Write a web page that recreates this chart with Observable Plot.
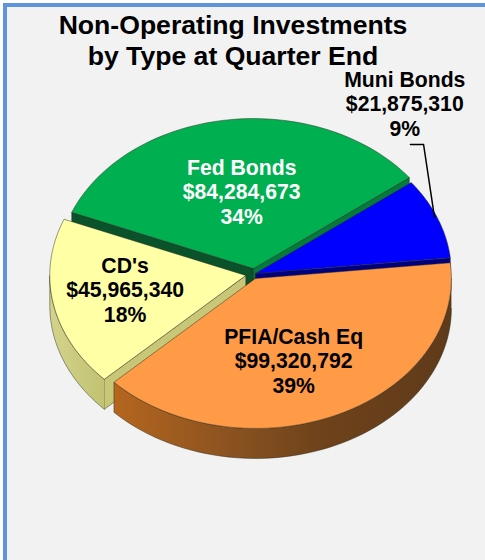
<!DOCTYPE html>
<html>
<head>
<meta charset="utf-8">
<script src="https://cdn.jsdelivr.net/npm/d3@7"></script>
<script src="https://cdn.jsdelivr.net/npm/@observablehq/plot@0.6"></script>
<style>
html,body{margin:0;padding:0;background:#fff;overflow:hidden}
#page{position:relative;width:485px;height:560px;overflow:hidden;font-family:"Liberation Sans",Arial,sans-serif}
#panel{position:absolute;left:3px;top:3px;width:500px;height:580px;background:#f2f2f2;border:4px solid #5f93dc;box-sizing:border-box}
#title{position:absolute;left:0;width:466px;top:10px;text-align:center;font-weight:700;font-size:26.6px;line-height:31px;color:#000}
#chart{position:absolute;left:0;top:0}
</style>
</head>
<body>
<div id="page">
  <div id="panel"></div>
  <div id="chart"></div>
  <div id="title">Non-Operating Investments<br>by Type at Quarter End</div>
</div>
<script>
// Data
const names = ["PFIA/Cash Eq", "CD's", "Fed Bonds", "Muni Bonds"];
const values = [99320792, 45965340, 84284673, 21875310];

// Look of each slice
const topColors = ["#ff9a47", "#ffffa6", "#00b050", "#0000ff"];
const labelColors = ["#000", "#000", "#fff", "#000"];
const explodeX = [0.025, -0.024, 0.015, 0.025];
const explodeY = [0.053, 0.033, -0.013, 0.02];
const labelX = [0.22, -0.64, -0.045, 0.787];
const labelY = [0.6, 0.127, -0.527, -1.113];
const startAngle = -6;
const depth = 0.2;
const leaderX = [0.816, 0.883, 0.939];
const leaderY = [-0.84, -0.84, -0.353];

const total = d3.sum(values);
const rad = Math.PI / 180;
let cursor = startAngle;
const slices = values.map((v, i) => {
  const a0 = cursor, a1 = cursor + v / total * 360;
  cursor = a1;
  return {i, a0, a1, ox: explodeX[i], oy: explodeY[i]};
});
const arcPts = (s, a0, a1, dy = 0) => d3.range(0, 61).map(k => {
  const t = (a0 + (a1 - a0) * k / 60) * rad;
  return {x: s.ox + Math.cos(t), y: s.oy + Math.sin(t) + dy};
});
const apex = (s, dy = 0) => ({x: s.ox, y: s.oy + dy});
const face = s => [apex(s), ...arcPts(s, s.a0, s.a1), apex(s)];
const cut = (s, a) => {
  const t = a * rad, e = (dy) => ({x: s.ox + Math.cos(t), y: s.oy + Math.sin(t) + dy});
  return [apex(s), e(0), e(depth), apex(s, depth), apex(s)];
};
const wall = (s, a0, a1) => [...arcPts(s, a0, a1), ...arcPts(s, a1, a0, depth)];

const [orange, yellow, green, blue] = slices;
const edge = {stroke: "#2b2b1c", strokeWidth: 0.6, strokeLinejoin: "round", strokeOpacity: 0.8};
const poly = (pts, fill, o = edge) => Plot.line(pts, {x: "x", y: "y", fill, ...o});

const labels = names.map((n, i) => ({
  x: labelX[i], y: labelY[i], fill: labelColors[i],
  text: `${n}\n${d3.format("$,")(values[i])}\n${d3.format(".0%")(values[i] / total)}`
}));
const leader = leaderX.map((x, i) => ({x, y: leaderY[i]}));

const defs = () => {
  const ns = "http://www.w3.org/2000/svg";
  const d = document.createElementNS(ns, "defs");
  d.innerHTML = `
  <linearGradient id="wallOrange" x1="0" x2="1" y1="0" y2="0">
    <stop offset="0" stop-color="#b5661f"/><stop offset="0.35" stop-color="#8a5220"/>
    <stop offset="0.6" stop-color="#6f431b"/><stop offset="1" stop-color="#5f3a1a"/>
  </linearGradient>
  <linearGradient id="wallYellow" x1="0" x2="1" y1="0" y2="0">
    <stop offset="0" stop-color="#d3d38c"/><stop offset="1" stop-color="#c2c272"/>
  </linearGradient>`;
  return d;
};

const chart = Plot.plot({
  width: 485, height: 560,
  margin: 0,
  style: {background: "transparent"},
  x: {domain: [-250 / 196, 235 / 196], range: [0, 485], axis: null},
  y: {domain: [-270 / 150, 290 / 150], range: [0, 560], axis: null},
  marks: [
    defs,
    poly(cut(green, green.a0), "#0a5229"),
    poly(cut(green, green.a1), "#047a3c"),
    poly(face(green), topColors[2]),
    poly(cut(blue, blue.a1), "#00007f"),
    poly(face(blue), topColors[3]),
    poly(cut(yellow, yellow.a0), "#c7c777"),
    poly(wall(yellow, yellow.a0, 180), "url(#wallYellow)"),
    poly(face(yellow), topColors[1]),
    poly(wall(orange, 0, orange.a1), "url(#wallOrange)"),
    poly(face(orange), topColors[0]),
    Plot.line(leader, {x: "x", y: "y", stroke: "#000", strokeWidth: 1.5}),
    Plot.text(labels, {
      x: "x", y: "y", text: "text", fill: "fill",
      fontFamily: "Liberation Sans, Arial, sans-serif",
      fontWeight: 700, fontSize: 21.2, lineHeight: 1.15, lineAnchor: "middle"
    })
  ]
});
document.getElementById("chart").appendChild(chart);
</script>
</body>
</html>
